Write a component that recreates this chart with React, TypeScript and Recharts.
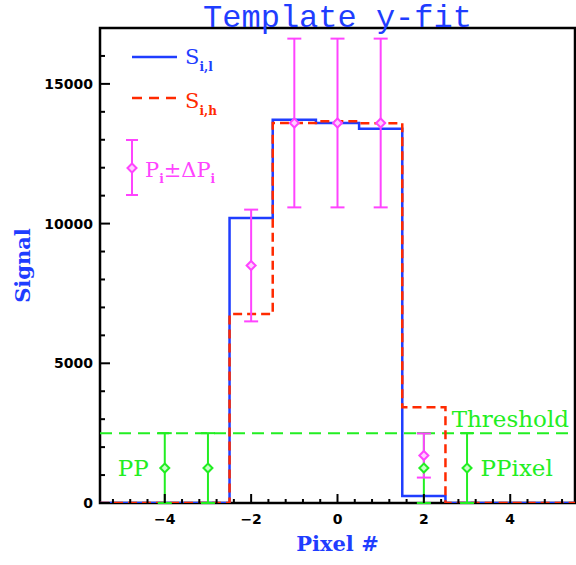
import React from 'react';
import {
  ComposedChart,
  Line,
  Scatter,
  ErrorBar,
  XAxis,
  YAxis,
  ReferenceLine,
  ReferenceArea,
  ReferenceDot,
  Legend,
  Label,
} from 'recharts';

// Template histograms, one bin per pixel
const pixelCenters = [-5, -4, -3, -2, -1, 0, 1, 2, 3, 4, 5];
const signalLow = [0, 0, 0, 10200, 13720, 13600, 13390, 250, 0, 0, 0];
const signalHigh = [0, 0, 0, 6760, 13600, 13660, 13590, 3430, 0, 0, 0];

// Measured pixel signals with uncertainties
const measuredPixels = [-2, -1, 0, 1, 2];
const measuredSignal = [8500, 13600, 13600, 13600, 1700];
const measuredError = [2000, 3020, 3020, 3020, 790];

// Pixels below threshold
const ppPixels = [-4, -3, 2, 3];
const ppSignal = [1250, 1250, 1250, 1250];
const ppError = [1250, 1250, 1250, 1250];

const threshold = 2500;

const xMajorTicks = [-4, -2, 0, 2, 4];
const xMinorTicks = [
  -5.2, -4.8, -4.4, -3.6, -3.2, -2.8, -2.4, -1.6, -1.2, -0.8, -0.4,
  0.4, 0.8, 1.2, 1.6, 2.4, 2.8, 3.2, 3.6, 4.4, 4.8, 5.2,
];
const yMajorTicks = [0, 5000, 10000, 15000];
const yMinorTicks = [
  1000, 2000, 3000, 4000, 6000, 7000, 8000, 9000, 11000, 12000, 13000, 14000, 16000, 17000,
];

const BLUE = '#1f3dff';
const RED = '#ff2a00';
const MAGENTA = '#ff44ff';
const GREEN = '#22ee22';

const toSteps = (vals: number[]) => {
  const pts = pixelCenters.map((c, i) => ({ x: c - 0.5, y: vals[i] }));
  pts.push({ x: pixelCenters[pixelCenters.length - 1] + 0.5, y: vals[vals.length - 1] });
  return pts;
};

const lowSteps = toSteps(signalLow);
const highSteps = toSteps(signalHigh);
const measured = measuredPixels.map((x, i) => ({ x, y: measuredSignal[i], err: measuredError[i] }));
const belowThreshold = ppPixels.map((x, i) => ({ x, y: ppSignal[i], err: ppError[i] }));

const xTicks = [...xMajorTicks, ...xMinorTicks].sort((a, b) => a - b);
const yTicks = [...yMajorTicks, ...yMinorTicks].sort((a, b) => a - b);

const isMajor = (list: number[], v: number) => list.some((m) => Math.abs(m - v) < 1e-6);
const fmtX = (v: number) => (v < 0 ? '\u2212' + Math.abs(v) : String(v));

const tickFont = { fontFamily: 'DejaVu Sans', fontWeight: 'bold' as const, fontSize: 14 };

const XTick = (props: any) => {
  const { x, y, payload } = props;
  const major = isMajor(xMajorTicks, payload.value);
  return (
    <g>
      <line x1={x} x2={x} y1={y} y2={y - (major ? 9 : 4)} stroke="#000" strokeWidth={2} />
      {major && (
        <text x={x} y={y + 21} textAnchor="middle" fill="#000" {...tickFont}>
          {fmtX(payload.value)}
        </text>
      )}
    </g>
  );
};

const YTick = (props: any) => {
  const { x, y, payload } = props;
  const major = isMajor(yMajorTicks, payload.value);
  return (
    <g>
      <line x1={x} x2={x + (major ? 10 : 5)} y1={y} y2={y} stroke="#000" strokeWidth={2} />
      {major && (
        <text x={x - 7} y={y + 5} textAnchor="end" fill="#000" {...tickFont}>
          {payload.value}
        </text>
      )}
    </g>
  );
};

const diamond = (color: string, fill: string) => (props: any) => {
  const { cx, cy } = props;
  const r = 4.5;
  return (
    <path
      d={`M${cx},${cy - r}L${cx + r},${cy}L${cx},${cy + r}L${cx - r},${cy}Z`}
      fill={fill}
      stroke={color}
      strokeWidth={2}
    />
  );
};

const legendFont = { fontFamily: 'DejaVu Serif', fontSize: 21 };
const subFont = { fontFamily: 'DejaVu Serif', fontSize: 12, fontWeight: 'bold' as const };

const LegendBox = () => (
  <svg width={120} height={175} style={{ overflow: 'visible', display: 'block' }}>
    <line x1={12} x2={57} y1={27} y2={27} stroke={BLUE} strokeWidth={2.5} />
    <text x={65} y={34} fill={BLUE} {...legendFont}>
      S<tspan dy={7} {...subFont}>i,l</tspan>
    </text>
    <line x1={12} x2={57} y1={68} y2={68} stroke={RED} strokeWidth={2.5} strokeDasharray="10 7" />
    <text x={65} y={78} fill={RED} {...legendFont}>
      S<tspan dy={7} {...subFont}>i,h</tspan>
    </text>
    <line x1={12} x2={12} y1={110} y2={165} stroke={MAGENTA} strokeWidth={2} />
    <line x1={6} x2={18} y1={110} y2={110} stroke={MAGENTA} strokeWidth={2} />
    <line x1={6} x2={18} y1={165} y2={165} stroke={MAGENTA} strokeWidth={2} />
    <path d="M12,133.5L16.5,138L12,142.5L7.5,138Z" fill="#ffd0ff" stroke={MAGENTA} strokeWidth={2} />
    <text x={25} y={147} fill={MAGENTA} {...legendFont}>
      P<tspan dy={6} {...subFont}>i</tspan>
      <tspan dy={-6}>±ΔP</tspan>
      <tspan dy={6} {...subFont}>i</tspan>
    </text>
  </svg>
);

const SignalLabel = (p: any) => {
  const vb = p.viewBox || { x: 40, y: 28, width: 60, height: 475 };
  return (
    <text
      x={0}
      y={0}
      transform={`translate(${vb.x - 10}, ${vb.y + vb.height / 2}) rotate(-90)`}
      textAnchor="middle"
      fill={BLUE}
      fontFamily="DejaVu Serif"
      fontWeight="bold"
      fontSize={21}
    >
      Signal
    </text>
  );
};

export default function App() {
  return (
    <div style={{ position: 'absolute', left: 0, top: 0, background: '#fff' }}>
      <ComposedChart
        width={576}
        height={565}
        margin={{ top: 28, right: 1, bottom: 12, left: 40 }}
      >
        <XAxis
          type="number"
          dataKey="x"
          domain={[-5.5, 5.5]}
          allowDataOverflow
          ticks={xTicks}
          interval={0}
          tick={<XTick />}
          tickLine={false}
          axisLine={false}
          tickSize={0}
          tickMargin={0}
          height={50}
        >
          <Label
            value="Pixel #"
            position="insideBottom"
            offset={2}
            fill={BLUE}
            fontFamily="DejaVu Serif"
            fontWeight="bold"
            fontSize={21}
          />
        </XAxis>
        <YAxis
          type="number"
          dataKey="y"
          domain={[0, 17000]}
          allowDataOverflow
          ticks={yTicks}
          interval={0}
          tick={<YTick />}
          tickLine={false}
          axisLine={false}
          tickSize={0}
          tickMargin={0}
          width={60}
        >
          <Label content={<SignalLabel />} />
        </YAxis>
        <ReferenceArea
          x1={-5.5}
          x2={5.5}
          y1={0}
          y2={17000}
          fill="none"
          fillOpacity={0}
          stroke="#000"
          strokeWidth={2.5}
        >
          <Label
            value="Template y-fit"
            position="top"
            offset={1}
            fill={BLUE}
            fontFamily="Liberation Mono"
            fontSize={32}
          />
        </ReferenceArea>
        <ReferenceLine y={threshold} stroke={GREEN} strokeWidth={2} strokeDasharray="12 7">
          <Label
            value="Threshold"
            position="insideBottomRight"
            offset={6}
            fill={GREEN}
            fontFamily="DejaVu Serif"
            fontSize={23}
          />
        </ReferenceLine>
        <ReferenceDot x={-4.73} y={1250} r={0} fill="none" stroke="none">
          <Label value="PP" position="center" fill={GREEN} fontFamily="DejaVu Serif" fontSize={23} />
        </ReferenceDot>
        <ReferenceDot x={4.15} y={1250} r={0} fill="none" stroke="none">
          <Label value="PPixel" position="center" fill={GREEN} fontFamily="DejaVu Serif" fontSize={23} />
        </ReferenceDot>
        <Line
          data={lowSteps}
          dataKey="y"
          type="stepAfter"
          stroke={BLUE}
          strokeWidth={2.5}
          dot={false}
          isAnimationActive={false}
        />
        <Line
          data={highSteps}
          dataKey="y"
          type="stepAfter"
          stroke={RED}
          strokeWidth={2.5}
          strokeDasharray="9 5"
          dot={false}
          isAnimationActive={false}
        />
        <Scatter
          data={belowThreshold}
          dataKey="y"
          shape={diamond(GREEN, '#c8ffc8')}
          isAnimationActive={false}
        >
          <ErrorBar dataKey="err" direction="y" width={7} stroke={GREEN} strokeWidth={2} isAnimationActive={false} />
        </Scatter>
        <Scatter
          data={measured}
          dataKey="y"
          shape={diamond(MAGENTA, '#ffd0ff')}
          isAnimationActive={false}
        >
          <ErrorBar dataKey="err" direction="y" width={7} stroke={MAGENTA} strokeWidth={2} isAnimationActive={false} />
        </Scatter>
        <Legend
          layout="vertical"
          align="center"
          verticalAlign="middle"
          content={<LegendBox />}
          wrapperStyle={{ position: 'absolute', left: 120, top: 30, width: 120, height: 175 }}
        />
      </ComposedChart>
    </div>
  );
}
